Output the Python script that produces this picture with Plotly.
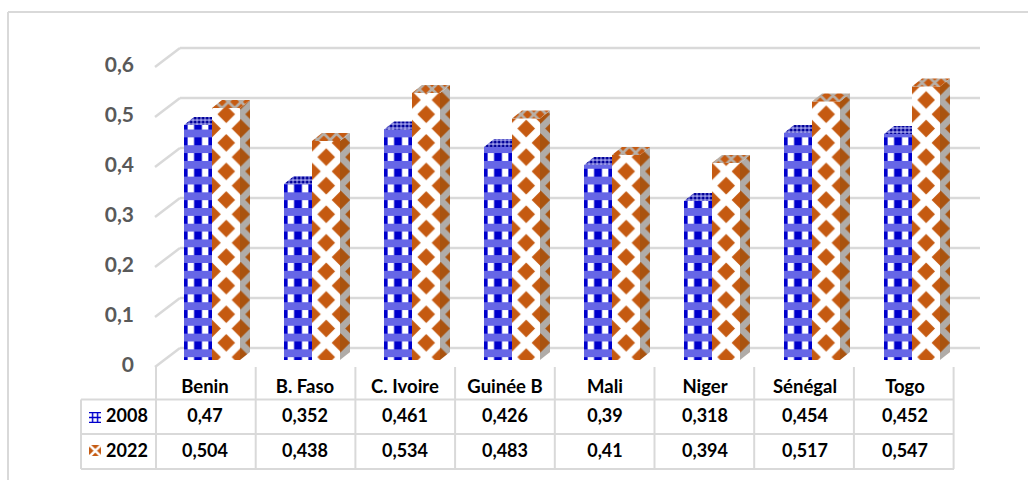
import plotly.graph_objects as go

categories = ["Benin", "B. Faso", "C. Ivoire", "Guinée B", "Mali", "Niger", "Sénégal", "Togo"]
values_2008 = [0.47, 0.352, 0.461, 0.426, 0.39, 0.318, 0.454, 0.452]
values_2022 = [0.504, 0.438, 0.534, 0.483, 0.41, 0.394, 0.517, 0.547]
tick_labels = ["0", "0,1", "0,2", "0,3", "0,4", "0,5", "0,6"]
tick_values = [0, 0.1, 0.2, 0.3, 0.4, 0.5, 0.6]

W, H = 1028, 480
BLUE, ORANGE, GRID = "#0000CC", "#C55A11", "#D9D9D9"
FONT = "Lato"
BAR_W, DX, DY = 0.28, 0.10, 0.016
Y_MIN, Y_MAX = -0.24, 0.72
BLUE_ORIGIN, ORANGE_ORIGIN = 5.14, 12.0
# Diagonal patterns tile at size * sqrt(2), so this gives a 28.57 px repeat
DIAMOND_SIZE = 20.2


def xd(px):
    return (px - 212) / 100


def yd(py):
    return (360 - py) / 500


def polygons(shapes):
    xs, ys = [], []
    for shape in shapes:
        xs += [p[0] for p in shape] + [shape[0][0], None]
        ys += [p[1] for p in shape] + [shape[0][1], None]
    return xs, ys


idx = list(range(len(categories)))
fig = go.Figure()

# Front faces of the 2008 columns: vertical stripes, then the horizontal checks
fig.add_trace(go.Bar(
    x=idx, y=values_2008, offset=-BAR_W, width=BAR_W, xaxis="x", yaxis="y", name="2008",
    marker=dict(color="white", line_width=0, opacity=1,
                pattern=dict(shape="|", size=100 / 7, solidity=0.55, fgcolor=BLUE, bgcolor="white", fgopacity=1)),
))
fig.add_trace(go.Bar(
    x=idx, y=values_2008, offset=-BAR_W, width=BAR_W, xaxis="x", yaxis="y", name="2008",
    marker=dict(color="rgba(0,0,0,0)", line_width=0, opacity=1,
                pattern=dict(shape="-", size=15.7, solidity=0.5, fgcolor="#6666E6", bgcolor="rgba(0,0,0,0)", fgopacity=1)),
))

# Top faces of the 2008 columns, cut off where the 2022 column starts
x, y = polygons([[(i - BAR_W, v), (i, v), (i, v + DY), (i - BAR_W + DX, v + DY)]
                 for i, v in zip(idx, values_2008)])
fig.add_trace(go.Scatter(
    x=x, y=y, mode="lines", line_width=0, fill="toself", xaxis="x", yaxis="y", hoverinfo="skip",
    fillcolor="#5A5AD0", fillpattern=dict(shape=".", size=4, solidity=0.5, fgcolor="#000099", bgcolor="#9A9AE8", fgopacity=1),
))

# Front faces of the 2022 columns: white lattice leaves orange diamonds
fig.add_trace(go.Bar(
    x=idx, y=values_2022, offset=0, width=BAR_W, xaxis="x2", yaxis="y", name="2022",
    marker=dict(color=ORANGE, line_width=0, opacity=1,
                pattern=dict(shape="x", size=DIAMOND_SIZE, solidity=0.62, fgcolor="white", bgcolor=ORANGE, fgopacity=1)),
))

# Right-hand side faces of the 2022 columns
x, y = polygons([[(i + BAR_W, 0), (i + BAR_W + DX, DY), (i + BAR_W + DX, v + DY), (i + BAR_W, v)]
                 for i, v in zip(idx, values_2022)])
fig.add_trace(go.Scatter(
    x=x, y=y, mode="lines", line_width=0, fill="toself", xaxis="x2", yaxis="y", hoverinfo="skip",
    fillcolor="#B0ACA8", fillpattern=dict(shape="x", size=DIAMOND_SIZE, solidity=0.55, fgcolor="#B0ACA8", bgcolor="#A9530F", fgopacity=1),
))

# Top faces of the 2022 columns
x, y = polygons([[(i, v), (i + BAR_W, v), (i + BAR_W + DX, v + DY), (i + DX, v + DY)]
                 for i, v in zip(idx, values_2022)])
fig.add_trace(go.Scatter(
    x=x, y=y, mode="lines", line_width=0, fill="toself", xaxis="x2", yaxis="y", hoverinfo="skip",
    fillcolor="#B8A898", fillpattern=dict(shape="x", size=9, solidity=0.5, fgcolor="#B8B0A8", bgcolor=ORANGE, fgopacity=1),
))

# Value axis labels, category labels and table values
fig.add_trace(go.Scatter(
    x=[xd(134)] * len(tick_labels), y=[v - 0.014 for v in tick_values], mode="text", text=tick_labels,
    textposition="middle left",
    textfont=dict(family=FONT, size=21, color="#595959", weight="bold"), hoverinfo="skip", xaxis="x", yaxis="y",
))
fig.add_trace(go.Scatter(
    x=[i - 0.07 for i in idx], y=[yd(388)] * len(idx), mode="text", text=categories,
    textfont=dict(family=FONT, size=18.5, color="black", weight="bold"), hoverinfo="skip", xaxis="x", yaxis="y",
))
for row_y, vals, label in [(417, values_2008, "2008"), (452, values_2022, "2022")]:
    fig.add_trace(go.Scatter(
        x=[i - 0.07 for i in idx], y=[yd(row_y)] * len(idx), mode="text",
        text=[str(v).replace(".", ",") for v in vals],
        textfont=dict(family=FONT, size=18, color="black", weight="bold"), hoverinfo="skip", xaxis="x", yaxis="y",
    ))
    fig.add_trace(go.Scatter(
        x=[xd(127)], y=[yd(row_y)], mode="text", text=[label],
        textfont=dict(family=FONT, size=18, color="black", weight="bold"), hoverinfo="skip", xaxis="x", yaxis="y",
    ))

# Legend keys inside the table
for top, bg, fg, shape, size in [(412, "white", BLUE, "+", 5), (445, "white", ORANGE, "x", 8.5)]:
    x, y = polygons([[(xd(89), yd(top)), (xd(101), yd(top)), (xd(101), yd(top + 11)), (xd(89), yd(top + 11))]])
    fig.add_trace(go.Scatter(
        x=x, y=y, mode="lines", line_width=0, fill="toself", xaxis="x", yaxis="y", hoverinfo="skip",
        fillcolor=fg, fillpattern=dict(shape=shape, size=size, solidity=0.5, fgcolor=fg if shape == "+" else bg,
                                       bgcolor=bg if shape == "+" else fg, fgopacity=1),
    ))

shapes = []


def line(x0, y0, x1, y1, xref="x", yref="y", width=2.5):
    shapes.append(dict(type="line", xref=xref, yref=yref, x0=x0, y0=y0, x1=x1, y1=y1,
                       layer="below", line=dict(color=GRID, width=width)))


# Back wall gridlines and the side wall edges leading to them
for v in tick_values:
    line(xd(180), v + 0.024, xd(980), v + 0.024)
    line(xd(155), v - 0.014, xd(180), v + 0.024)


def table_line(x0, y0, x1, y1):
    line(x0 / W, 1 - y0 / H, x1 / W, 1 - y1 / H, "paper", "paper", 2)


# Data table rules
for k in range(len(categories) + 1):
    table_line(156 + 99.7 * k, 367, 156 + 99.7 * k, 469)
table_line(81, 399.5, 81, 469)
for py in (399.5, 434, 469):
    table_line(81, py, 954, py)

# Chart frame
table_line(8, 12, 8, 480)
table_line(8, 12, 1028, 12)

fig.update_layout(
    width=W, height=H, margin=dict(l=0, r=0, t=0, b=0), autosize=False,
    paper_bgcolor="white", plot_bgcolor="rgba(0,0,0,0)", showlegend=False, barmode="overlay",
    shapes=shapes,
    xaxis=dict(domain=[BLUE_ORIGIN / W, 1], range=[xd(BLUE_ORIGIN), xd(W)], visible=False, anchor="y"),
    xaxis2=dict(domain=[ORANGE_ORIGIN / W, 1], range=[xd(ORANGE_ORIGIN), xd(W)], visible=False, anchor="y"),
    yaxis=dict(domain=[0, 1], range=[Y_MIN, Y_MAX], visible=False, anchor="x"),
)
fig.write_html("out.html", config=dict(displayModeBar=False))
